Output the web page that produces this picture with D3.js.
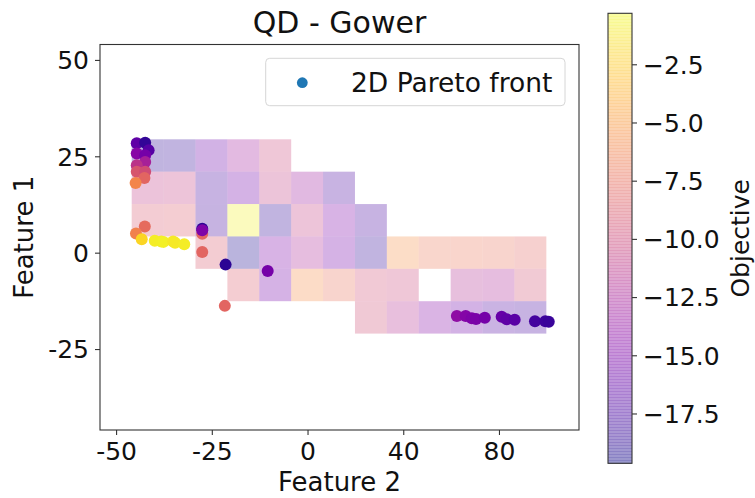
<!DOCTYPE html>
<html>
<head>
<meta charset="utf-8">
<script src="https://cdn.jsdelivr.net/npm/d3@7"></script>
<style>
  html, body { margin: 0; padding: 0; background: #fff; }
  svg { display: block; font-family: "DejaVu Sans", sans-serif; }
</style>
</head>
<body>
<svg id="chart" width="755" height="498"></svg>
<script>
// Grid of archive cells: Feature 2 bins (columns) by Feature 1 bins (rows, top to bottom)
const f2BinStart = -45.92;   // left edge of first Feature 2 bin
const f2BinSize = 8.33;
const f1BinTop = 29.41;      // top edge of first Feature 1 bin
const f1BinSize = 8.4;

// Best objective per cell; null = empty cell
const cellRow0 = [-18.5, -18.3, -15.8, -12.9, -10.0, null, null, null, null, null, null, null, null];
const cellRow1 = [-10.9, -10.7, -17.5, -15.4, -10.8, -13.1, -17.3, null, null, null, null, null, null];
const cellRow2 = [-9.0, -8.8, -17.7, -0.7, -18.3, -10.7, -14.8, -17.5, null, null, null, null, null];
const cellRow3 = [null, null, -8.9, -19.2, -14.8, -12.3, -15.2, -18.4, -5.5, -6.9, -7.1, -7.2, -8.0];
const cellRow4 = [null, null, null, -8.8, -15.3, -5.7, -7.4, -9.6, -10.0, null, -11.9, -12.2, -9.5];
const cellRow5 = [null, null, null, null, null, null, null, -9.7, -11.8, -14.4, -15.6, -17.0, -17.5];
const cellRows = [cellRow0, cellRow1, cellRow2, cellRow3, cellRow4, cellRow5];

// 2D Pareto front solutions
const paretoF2 = [-44.6, -42.4, -41.5, -44.6, -42.4, -42.4, -44.6, -44.6, -42.4, -42.6, -44.9,
                  -42.5, -44.8, -43.3, -39.9, -38.2, -37.6, -35.1, -34.6, -32.2,
                  -27.5, -27.5, -27.5, -27.5, -21.4, -10.4, -21.6,
                  39.0, 41.3, 42.9, 44.0, 46.3, 50.7, 52.0, 54.1, 59.4, 62.1, 63.0];
const paretoF1 = [28.4, 28.5, 26.6, 25.7, 25.3, 23.5, 22.7, 21.0, 21.0, 19.4, 18.1,
                  6.8, 5.0, 3.5, 3.1, 2.9, 2.8, 2.9, 2.6, 2.2,
                  4.9, 6.2, 5.8, 0.2, -3.1, -4.75, -13.8,
                  -16.4, -16.4, -17.0, -17.2, -16.9, -16.6, -17.3, -17.4, -17.8, -17.8, -17.9];
const paretoObj = [-16.3, -18.3, -16.7, -14.3, -15.2, -12.6, -11.3, -9.0, -9.6, -8.0, -6.0,
                   -7.6, -6.2, -1.9, -0.9, -0.8, -0.7, -1.1, -1.0, -0.9,
                   -8.0, -18.6, -14.8, -8.0, -18.6, -15.2, -8.0,
                   -13.9, -14.5, -14.8, -15.0, -15.2, -16.0, -16.3, -16.6, -17.6, -17.9, -18.0];

// Axis ticks
const xTickValues = [-50, -25, 0, 25, 50];
const xTickLabels = ["-50", "-25", "0", "40", "80"];
const yTickValues = [-25, 0, 25, 50];
const yTickLabels = ["-25", "0", "25", "50"];
const cbarTicks = [-17.5, -15.0, -12.5, -10.0, -7.5, -5.0, -2.5];

const objMin = -19.64, objMax = -0.31;

const svg = d3.select("#chart");
const plot = { left: 100, right: 579, top: 44.5, bottom: 430 };

const x = d3.scaleLinear().domain([-54.2, 70.9]).range([plot.left, plot.right]);
const y = d3.scaleLinear().domain([-46, 54]).range([plot.bottom, plot.top]);
const norm = d3.scaleLinear().domain([objMin, objMax]).range([0, 1]).clamp(true);
const color = v => d3.interpolatePlasma(norm(v));

// Archive cells
const cells = [];
cellRows.forEach((row, r) => row.forEach((v, c) => {
  if (v !== null) cells.push({ r, c, v });
}));
svg.append("g").selectAll("rect").data(cells).join("rect")
  .attr("x", d => x(f2BinStart + d.c * f2BinSize))
  .attr("width", d => x(f2BinStart + (d.c + 1) * f2BinSize) - x(f2BinStart + d.c * f2BinSize))
  .attr("y", d => y(f1BinTop - d.r * f1BinSize))
  .attr("height", d => y(f1BinTop - (d.r + 1) * f1BinSize) - y(f1BinTop - d.r * f1BinSize))
  .attr("fill", d => color(d.v))
  .attr("fill-opacity", 0.3);

// Pareto points
const pts = paretoF2.map((f2, i) => ({ f2, f1: paretoF1[i], v: paretoObj[i] }));
svg.append("g").selectAll("circle").data(pts).join("circle")
  .attr("cx", d => x(d.f2))
  .attr("cy", d => y(d.f1))
  .attr("r", 6)
  .attr("fill", d => color(d.v));

// Axes
const xAxis = svg.append("g").attr("transform", `translate(0,${plot.bottom})`)
  .call(d3.axisBottom(x).tickValues(xTickValues)
    .tickFormat((d, i) => xTickLabels[i]).tickSize(5).tickPadding(6));
const yAxis = svg.append("g").attr("transform", `translate(${plot.left},0)`)
  .call(d3.axisLeft(y).tickValues(yTickValues)
    .tickFormat((d, i) => yTickLabels[i]).tickSize(5).tickPadding(6));
[xAxis, yAxis].forEach(g => {
  g.select(".domain").remove();
  g.selectAll(".tick line").attr("stroke", "#333").attr("stroke-width", 1.1);
  g.selectAll(".tick text").attr("font-size", 25).attr("fill", "#111")
    .attr("font-family", "DejaVu Sans, sans-serif");
});
xAxis.selectAll(".tick text").attr("dy", "0.75em");
yAxis.selectAll(".tick text").attr("dy", "0.35em");

// Frame
svg.append("rect")
  .attr("x", plot.left).attr("y", plot.top)
  .attr("width", plot.right - plot.left).attr("height", plot.bottom - plot.top)
  .attr("fill", "none").attr("stroke", "#333").attr("stroke-width", 1.1);

// Title and axis labels
svg.append("text").attr("x", (plot.left + plot.right) / 2).attr("y", 33)
  .attr("text-anchor", "middle").attr("font-size", 30).attr("fill", "#111")
  .text("QD - Gower");
svg.append("text").attr("x", (plot.left + plot.right) / 2).attr("y", 491)
  .attr("text-anchor", "middle").attr("font-size", 26).attr("fill", "#111")
  .text("Feature 2");
svg.append("text")
  .attr("transform", `translate(33,${(plot.top + plot.bottom) / 2}) rotate(-90)`)
  .attr("text-anchor", "middle").attr("font-size", 26).attr("fill", "#111")
  .text("Feature 1");

// Legend
const lg = svg.append("g");
lg.append("rect").attr("x", 265.7).attr("y", 58.3).attr("width", 299.3).attr("height", 47.4)
  .attr("rx", 4).attr("fill", "#fff").attr("fill-opacity", 0.8)
  .attr("stroke", "#d6d6d6").attr("stroke-width", 1);
lg.append("circle").attr("cx", 302.3).attr("cy", 82.7).attr("r", 5.4).attr("fill", "#1f77b4");
lg.append("text").attr("x", 351).attr("y", 92).attr("font-size", 26.5).attr("fill", "#111")
  .text("2D Pareto front");

// Colorbar
const cb = { left: 608, right: 632, top: 13.3, bottom: 463.3 };
const cy = d3.scaleLinear().domain([objMin, objMax]).range([cb.bottom, cb.top]);
const steps = d3.range(0, 150);
const stepH = (cb.bottom - cb.top) / steps.length;
svg.append("g").selectAll("rect").data(steps).join("rect")
  .attr("x", cb.left).attr("width", cb.right - cb.left)
  .attr("y", i => cb.bottom - (i + 1) * stepH)
  .attr("height", stepH + 0.4)
  .attr("fill", i => d3.interpolatePlasma((i + 0.5) / steps.length))
  .attr("fill-opacity", 0.42);
svg.append("rect").attr("x", cb.left).attr("y", cb.top)
  .attr("width", cb.right - cb.left).attr("height", cb.bottom - cb.top)
  .attr("fill", "none").attr("stroke", "#333").attr("stroke-width", 1.1);
const cAxis = svg.append("g").attr("transform", `translate(${cb.right},0)`)
  .call(d3.axisRight(cy).tickValues(cbarTicks).tickFormat(d3.format(".1f"))
    .tickSize(5).tickPadding(6));
cAxis.select(".domain").remove();
cAxis.selectAll(".tick line").attr("stroke", "#333").attr("stroke-width", 1.1);
cAxis.selectAll(".tick text").attr("font-size", 25).attr("fill", "#111")
  .attr("font-family", "DejaVu Sans, sans-serif").attr("dy", "0.35em");
svg.append("text")
  .attr("transform", `translate(749,${(cb.top + cb.bottom) / 2}) rotate(-90)`)
  .attr("text-anchor", "middle").attr("font-size", 25).attr("fill", "#111")
  .text("Objective");
</script>
</body>
</html>
